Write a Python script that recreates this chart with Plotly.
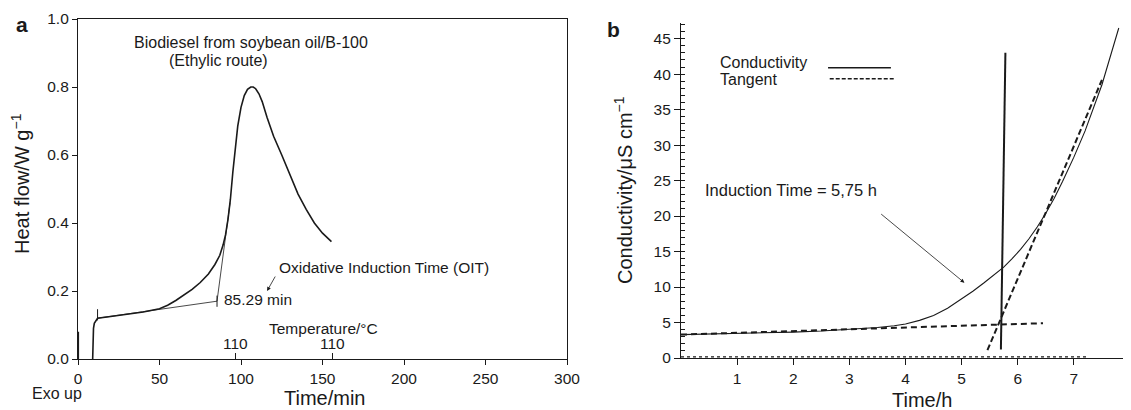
import plotly.graph_objects as go

# ---------------- Panel a: DSC heat flow ----------------
heat_time = [9.0, 9.2, 9.5, 10.0, 11.0, 12.0, 20, 30, 40, 50, 55, 60, 65, 70, 75, 80, 84, 87, 89,
             90.5, 92, 93.5, 95, 96.5, 98, 100, 102, 104, 106, 107.5, 109, 111, 113, 116, 120,
             125, 130, 135, 140, 145, 150, 155.5]
heat_flow = [0.0, 0.05, 0.09, 0.105, 0.115, 0.12, 0.125, 0.131, 0.138, 0.148, 0.158, 0.172, 0.188,
             0.205, 0.225, 0.25, 0.278, 0.305, 0.335, 0.365, 0.41, 0.47, 0.55, 0.625, 0.685,
             0.74, 0.775, 0.793, 0.80, 0.80, 0.795, 0.78, 0.757, 0.71, 0.655, 0.60, 0.54,
             0.485, 0.44, 0.4, 0.37, 0.345]
start_time = [0.3, 0.3]
start_flow = [0.0, 0.08]
base_tan_time = [12.0, 85.29]
base_tan_flow = [0.12, 0.17]
steep_tan_time = [85.29, 93.3]
steep_tan_flow = [0.17, 0.46]
oit_marks_time = [12.0, 85.29]
oit_marks_flow = [0.13, 0.17]
temp_tick_pos = [96.5, 156.0]
temp_tick_text = ["110", "110"]

# ---------------- Panel b: Rancimat conductivity ----------------
cond_time = [0.0, 1.0, 2.0, 2.5, 3.0, 3.5, 3.8, 4.0, 4.25, 4.5, 4.75, 5.0, 5.2, 5.4, 5.6, 5.75, 5.9,
             6.05, 6.2, 6.35, 6.5, 6.65, 6.8, 7.0, 7.2, 7.5, 7.8]
cond_val = [3.3, 3.45, 3.65, 3.8, 4.0, 4.3, 4.55, 4.8, 5.3, 6.0, 7.0, 8.3, 9.4, 10.6, 11.8, 12.8, 14.0,
            15.3, 16.8, 18.5, 20.4, 22.5, 24.9, 28.3, 32.0, 38.5, 46.5]
vert_time = [5.70, 5.78]
vert_val = [1.2, 43.0]
tanb_base_time = [0.0, 6.45]
tanb_base_val = [3.3, 4.9]
tanb_steep_time = [5.46, 7.5]
tanb_steep_val = [1.1, 39.2]
zero_time = [0.0, 7.25]
zero_val = [0.15, 0.15]

FONT = "Liberation Sans, Arial, Helvetica, sans-serif"
BLACK = "#1a1a1a"

# the page body adds an 8 px offset; figure is sized to fill the rest of the window
OFF = 8
W, H = 1131 - OFF, 410 - OFF
def fx(px):
    return (px - OFF) / W
def fy(py):
    return 1 - (py - OFF) / H

fig = go.Figure()

# panel a traces
fig.add_trace(go.Scatter(x=heat_time, y=heat_flow, mode="lines", line=dict(color=BLACK, width=1.6),
                         xaxis="x", yaxis="y", showlegend=False))
fig.add_trace(go.Scatter(x=start_time, y=start_flow, mode="lines", line=dict(color=BLACK, width=1.2),
                         xaxis="x", yaxis="y", showlegend=False))
fig.add_trace(go.Scatter(x=base_tan_time, y=base_tan_flow, mode="lines", line=dict(color=BLACK, width=0.8),
                         xaxis="x", yaxis="y", showlegend=False))
fig.add_trace(go.Scatter(x=steep_tan_time, y=steep_tan_flow, mode="lines", line=dict(color=BLACK, width=0.8),
                         xaxis="x", yaxis="y", showlegend=False))
fig.add_trace(go.Scatter(x=oit_marks_time, y=oit_marks_flow, mode="markers",
                         marker=dict(symbol="line-ns", size=8, line=dict(color=BLACK, width=1)),
                         xaxis="x", yaxis="y", showlegend=False))
fig.add_trace(go.Scatter(x=temp_tick_pos, y=[None, None], mode="markers", xaxis="x3", yaxis="y",
                         showlegend=False, hoverinfo="skip"))

# panel b traces
fig.add_trace(go.Scatter(x=zero_time, y=zero_val, mode="lines", line=dict(color=BLACK, width=1.2, dash="dot"),
                         xaxis="x2", yaxis="y2", showlegend=False))
fig.add_trace(go.Scatter(x=cond_time, y=cond_val, mode="lines", line=dict(color=BLACK, width=1.1),
                         xaxis="x2", yaxis="y2", showlegend=False))
fig.add_trace(go.Scatter(x=tanb_base_time, y=tanb_base_val, mode="lines",
                         line=dict(color=BLACK, width=2, dash="6px,4px"),
                         xaxis="x2", yaxis="y2", showlegend=False))
fig.add_trace(go.Scatter(x=tanb_steep_time, y=tanb_steep_val, mode="lines",
                         line=dict(color=BLACK, width=2, dash="6px,3px"),
                         xaxis="x2", yaxis="y2", showlegend=False))
fig.add_trace(go.Scatter(x=vert_time, y=vert_val, mode="lines", line=dict(color=BLACK, width=2),
                         xaxis="x2", yaxis="y2", showlegend=False))

ax_common = dict(showgrid=False, zeroline=False, showline=True, linecolor=BLACK, linewidth=1.2,
                 automargin=False,
                 tickcolor=BLACK, tickfont=dict(family=FONT, size=15.5, color=BLACK))

fig.update_layout(
    width=W, height=H,
    margin=dict(l=0, r=0, t=0, b=0, pad=0, autoexpand=False),
    paper_bgcolor="white", plot_bgcolor="white",
    font=dict(family=FONT, color=BLACK),
    xaxis=dict(domain=[fx(78), fx(567)], range=[0, 300], dtick=50, ticks="outside", ticklen=5,
               mirror=True, anchor="y", **ax_common),
    yaxis=dict(domain=[fy(359), fy(19)], range=[0, 1.0], dtick=0.2, tickformat=".1f",
               ticks="outside", ticklen=5, mirror=True, anchor="x", **ax_common),
    xaxis3=dict(domain=[fx(78), fx(567)], range=[0, 300], overlaying="x", anchor="y", side="bottom",
                tickvals=temp_tick_pos, ticks="inside", ticklen=6, showticklabels=False,
                showgrid=False, zeroline=False, showline=False, automargin=False, tickcolor=BLACK),
    xaxis2=dict(domain=[fx(681), fx(1130)], range=[0, 8], tickvals=[1, 2, 3, 4, 5, 6, 7, 8],
                ticks="outside", ticklen=6, anchor="y2",
                **ax_common),
    yaxis2=dict(domain=[fy(358), fy(23)], range=[0, 47.2], dtick=5, ticks="outside",
                ticklen=6, anchor="x2",
                minor=dict(dtick=1, ticks="inside", ticklen=4, tickcolor=BLACK),
                **ax_common),
)

ann = []
def txt(text, x, y, xref, yref, size=16, xanchor="left", yanchor="middle", angle=0, bold=False):
    ann.append(dict(text=("<b>%s</b>" % text) if bold else text, x=x, y=y, xref=xref, yref=yref,
                    showarrow=False, xanchor=xanchor, yanchor=yanchor, textangle=angle,
                    font=dict(family=FONT, size=size, color=BLACK)))

# panel a texts
txt("a", fx(22), fy(24), "paper", "paper", size=21, xanchor="center", bold=True)
txt("Biodiesel from soybean oil/B-100", 33.1, 0.932, "x", "y")
txt("(Ethylic route)", 54.6, 0.879, "x", "y")
txt("Oxidative Induction Time (OIT)", 122, 0.268, "x", "y", size=15.5)
txt("85.29 min", 88.5, 0.174, "x", "y", size=15.5)
txt("Temperature/°C", 116, 0.091, "x", "y", size=15.5)
for pos, lab in zip(temp_tick_pos, temp_tick_text):
    txt(lab, pos, 0.047, "x", "y", size=15.5, xanchor="center")
txt("Exo up", fx(57), fy(393), "paper", "paper", size=16, xanchor="center")
txt("Time/min", fx(324), fy(398), "paper", "paper", size=20, xanchor="center")
txt("Heat flow/W g<sup>−1</sup>", fx(20), fy(184), "paper", "paper", size=20,
    xanchor="center", angle=-90)
ann.append(dict(x=116, y=0.2, ax=121.5, ay=0.247, xref="x", yref="y", axref="x", ayref="y",
                showarrow=True, arrowhead=2, arrowsize=1, arrowwidth=0.8, arrowcolor=BLACK, text=""))

# panel b texts
txt("b", fx(613), fy(30), "paper", "paper", size=21, xanchor="center", bold=True)
txt("Conductivity", 0.66, 41.7, "x2", "y2")
txt("Tangent", 0.66, 39.2, "x2", "y2")
txt("Induction Time = 5,75 h", 0.39, 23.7, "x2", "y2", size=16.5)
txt("Time/h", fx(922), fy(400), "paper", "paper", size=20, xanchor="center")
txt("Conductivity/μS cm<sup>−1</sup>", fx(623), fy(190), "paper", "paper", size=20,
    xanchor="center", angle=-90)
ann.append(dict(x=5.05, y=10.6, ax=3.54, ay=20.45, xref="x2", yref="y2", axref="x2", ayref="y2",
                showarrow=True, arrowhead=2, arrowsize=1, arrowwidth=0.8, arrowcolor=BLACK, text=""))
fig.update_layout(annotations=ann)

# legend samples for panel b
fig.add_shape(type="line", x0=2.62, x1=3.74, y0=40.9, y1=40.9, xref="x2", yref="y2",
              line=dict(color=BLACK, width=1.5))
fig.add_shape(type="line", x0=2.65, x1=3.79, y0=39.35, y1=39.35, xref="x2", yref="y2",
              line=dict(color=BLACK, width=1.5, dash="4px,2px"))

fig.write_html("out.html")
